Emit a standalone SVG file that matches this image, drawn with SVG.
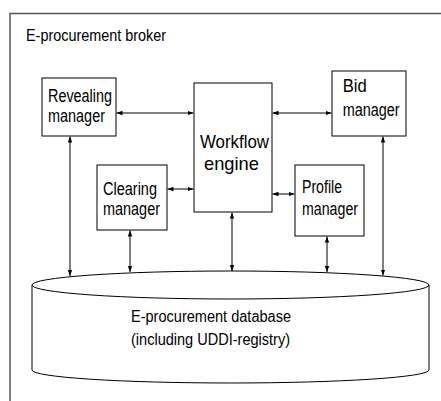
<svg xmlns="http://www.w3.org/2000/svg" width="441" height="401" viewBox="0 0 441 401">
<style>
.box{fill:#fff;stroke:#000;stroke-width:1}
.t{font-family:"Liberation Sans Narrow","Liberation Sans",Arial,sans-serif;font-size:17.5px;fill:#000}
.s{font-size:16px}
.w{font-size:18.5px}
.c{stroke:#000;stroke-width:1;fill:none;marker-start:url(#a);marker-end:url(#a)}
</style>
<defs>
<marker id="a" viewBox="0 0 6 6" refX="6" refY="3" markerWidth="6" markerHeight="6" markerUnits="userSpaceOnUse" orient="auto-start-reverse">
<path d="M0,0.8 L6,3 L0,5.2 Z" fill="#000"/>
</marker>
</defs>
<rect width="441" height="401" fill="#fff"/>
<g id="frame">
<path d="M10,401 V13.5 H441" fill="none" stroke="#555" stroke-width="1.5"/>
<text class="t s" x="26" y="40.5" textLength="140" lengthAdjust="spacingAndGlyphs">E-procurement broker</text>
</g>
<g id="database">
<path d="M32,285 V370 A198.5,13 0 0 0 429,370 V285" fill="#fff" stroke="#000" stroke-width="1"/>
<ellipse cx="230.5" cy="285" rx="198.5" ry="14" fill="#fff" stroke="#000" stroke-width="1"/>
<text class="t s" x="131" y="322" textLength="160" lengthAdjust="spacingAndGlyphs">E-procurement database</text>
<text class="t s" x="131" y="345" textLength="159" lengthAdjust="spacingAndGlyphs">(including UDDI-registry)</text>
</g>
<g id="connectors">
<line class="c" x1="116.5" y1="113" x2="193.5" y2="113"/>
<line class="c" x1="167.5" y1="189" x2="193.5" y2="189"/>
<line class="c" x1="272.5" y1="113" x2="331.5" y2="113"/>
<line class="c" x1="272.5" y1="194" x2="294.5" y2="194"/>
<line class="c" x1="70" y1="136.5" x2="70" y2="276"/>
<line class="c" x1="130" y1="230.5" x2="130" y2="272"/>
<line class="c" x1="232" y1="212.5" x2="232" y2="271"/>
<line class="c" x1="327" y1="236.5" x2="327" y2="272"/>
<line class="c" x1="383" y1="136.5" x2="383" y2="275.5"/>
</g>
<g id="revealing">
<rect class="box" x="42" y="78" width="74" height="58"/>
<text class="t" x="48" y="102" textLength="64" lengthAdjust="spacingAndGlyphs">Revealing</text>
<text class="t" x="48" y="122" textLength="57" lengthAdjust="spacingAndGlyphs">manager</text>
</g>
<g id="workflow">
<rect class="box" x="194" y="83" width="78" height="129"/>
<text class="t w" x="200" y="148.3" textLength="69" lengthAdjust="spacingAndGlyphs">Workflow</text>
<text class="t w" x="204" y="170" textLength="55" lengthAdjust="spacingAndGlyphs">engine</text>
</g>
<g id="bid">
<rect class="box" x="332" y="71" width="74" height="65"/>
<text class="t" x="342.7" y="92.3" textLength="24" lengthAdjust="spacingAndGlyphs">Bid</text>
<text class="t" x="342.7" y="115.5" textLength="57" lengthAdjust="spacingAndGlyphs">manager</text>
</g>
<g id="clearing">
<rect class="box" x="97" y="165" width="70" height="65"/>
<text class="t" x="103" y="195" textLength="54" lengthAdjust="spacingAndGlyphs">Clearing</text>
<text class="t" x="103" y="215" textLength="57" lengthAdjust="spacingAndGlyphs">manager</text>
</g>
<g id="profile">
<rect class="box" x="295" y="165" width="69" height="71"/>
<text class="t" x="302" y="193.3" textLength="40" lengthAdjust="spacingAndGlyphs">Profile</text>
<text class="t" x="302" y="215" textLength="56" lengthAdjust="spacingAndGlyphs">manager</text>
</g>
</svg>
